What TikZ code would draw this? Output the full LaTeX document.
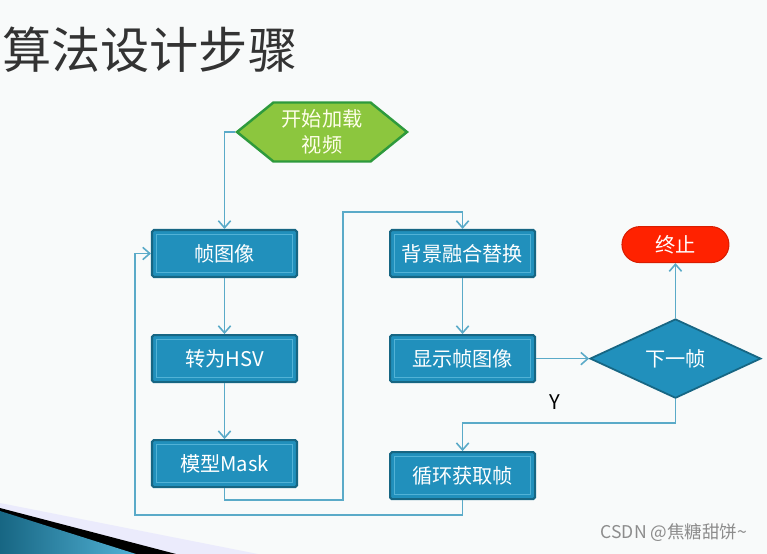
\documentclass[tikz,border=0pt]{standalone}
\usepackage{fontspec}
\newfontfamily\cjk{Noto Sans CJK SC}
\usetikzlibrary{positioning,arrows.meta,shapes.geometric,shapes.symbols}
\definecolor{pagebg}{HTML}{F8FAFA}
\definecolor{boxfill}{HTML}{2190BC}
\definecolor{boxedge}{HTML}{176683}
\definecolor{boxline}{HTML}{52B2D6}
\definecolor{linkblue}{HTML}{5AAAC8}
\definecolor{hexfill}{HTML}{8CC63E}
\definecolor{hexedge}{HTML}{2E9A3C}
\definecolor{stopred}{HTML}{FF2200}

\begin{document}
\begin{tikzpicture}[x=0.02cm, y=-0.02cm, >={Straight Barb[length=4pt,width=7pt]},
    box/.style={draw=boxedge, line width=1.2pt, fill=boxfill, text=white, rounded corners=1pt,
      minimum width=2.9cm, minimum height=0.94cm, inner sep=0pt, font=\cjk\fontsize{11.5}{13}\selectfont,
      path picture={\draw[boxline, line width=0.6pt, sharp corners]
        ([shift={(2.4pt,-2.4pt)}]path picture bounding box.north west) rectangle
        ([shift={(-2.4pt,2.4pt)}]path picture bounding box.south east);}},
    link/.style={->, draw=linkblue, line width=0.9pt}]

  \fill[pagebg] (0,0) rectangle (767,554);
  \useasboundingbox (0,0) rectangle (767,554);

  \fill[black!12!blue!8] (0,503) -- (258,554) -- (0,554) -- cycle;
  \fill[black] (0,508) -- (176,554) -- (0,554) -- cycle;
  \shade[left color=boxedge, right color=boxline] (0,511) -- (136,554) -- (0,554) -- cycle;

  \node[anchor=west, text=black!80, font=\cjk\fontsize{28}{30}\selectfont] (title) at (-4,50) {算法设计步骤};

  \node[signal, signal to=west and east, signal pointer angle=78, draw=hexedge, line width=1.4pt,
    fill=hexfill, text=yellow!8, minimum width=3.4cm, minimum height=1.18cm, inner sep=0pt,
    align=center, font=\cjk\fontsize{11.5}{15}\selectfont] (start) at (322,132) {开始加载\\视频};

  \node[box] (frame) at (224.5,253.5) {帧图像};
  \node[box, below=1.12cm of frame] (hsv) {转为HSV};
  \node[box, below=1.12cm of hsv] (mask) {模型Mask};
  \node[box, right=1.82cm of frame] (blend) {背景融合替换};
  \node[box, below=1.12cm of blend] (show) {显示帧图像};
  \node[box, below=1.36cm of show] (loop) {循环获取帧};

  \node[diamond, draw=boxedge, line width=1pt, fill=boxfill, text=white, inner sep=0pt,
    minimum width=3.42cm, minimum height=1.48cm, font=\cjk\fontsize{11.5}{13}\selectfont,
    right=1.06cm of show] (next) {下一帧};
  \node[draw=stopred!85!black, line width=0.6pt, fill=stopred, text=white, rounded corners=0.36cm,
    minimum width=2.14cm, minimum height=0.72cm, font=\cjk\fontsize{11.5}{13}\selectfont,
    above=1.1cm of next] (stop) {终止};

  \node[font=\cjk\fontsize{11.5}{13}\selectfont] (ylabel) at (555,402) {Y};
  \node[text=black!45, font=\cjk\fontsize{10}{12}\selectfont] (mark) at (674,533) {CSDN @焦糖甜饼\textasciitilde};

  \coordinate (c1) at (343,500);
  \coordinate (c2) at (343,212);
  \coordinate (c3) at (next.south |- 0,423);
  \coordinate (c4) at (135,515);

  \draw[link] (start.west) -| (frame.north);
  \draw[link] (frame) -- (hsv);
  \draw[link] (hsv) -- (mask);
  \draw[link] (mask.south) |- (c1) -- (c2) -| (blend.north);
  \draw[link] (blend) -- (show);
  \draw[link] (show) -- (next);
  \draw[link] (next) -- (stop);
  \draw[link] (next.south) -- (c3) -| (loop.north);
  \draw[link] (loop.south) |- (c4) |- (frame.west);
\end{tikzpicture}
\end{document}
